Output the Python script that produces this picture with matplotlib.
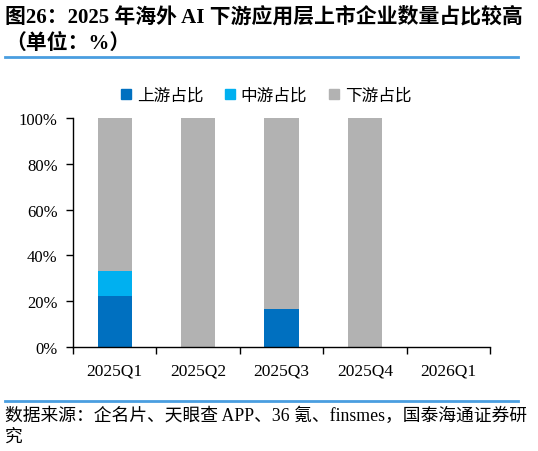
import matplotlib
matplotlib.use("Agg")
import matplotlib.pyplot as plt
from matplotlib.lines import Line2D
import numpy as np

# 数据（%）
quarters = ["2025Q1", "2025Q2", "2025Q3", "2025Q4", "2026Q1"]
upstream = [22.2, 0, 16.7, 0, 0]
midstream = [11.1, 0, 0, 0, 0]
downstream = [66.7, 100, 83.3, 100, 0]
series_names = ["上游占比", "中游占比", "下游占比"]
colors = ["#0070C0", "#00B0F0", "#B2B2B2"]
yticks = [0, 20, 40, 60, 80, 100]

CJK = ["Noto Sans CJK SC", "DejaVu Sans"]
SERIF = ["Liberation Serif", "Noto Sans CJK SC"]

fig = plt.figure(figsize=(5.38, 4.52), dpi=100)
ax = fig.add_axes([0.1357, 0.230, 0.775, 0.507])

x = np.arange(len(quarters))
bottom = np.zeros(len(quarters))
for vals, c in zip([upstream, midstream, downstream], colors):
    ax.bar(x, vals, width=0.41, bottom=bottom, color=c, linewidth=0)
    bottom += np.array(vals)

ax.set_xlim(-0.5, len(quarters) - 0.5)
ax.set_ylim(0, 100)
ax.set_yticks(yticks)
ax.set_yticklabels([f"{v}%" for v in yticks], family=SERIF, fontsize=12)
ax.set_xticks(np.arange(len(quarters) + 1) - 0.5)
ax.set_xticklabels([])
ax.set_xticks(x, minor=True)
ax.set_xticklabels(quarters, minor=True, family=SERIF, fontsize=12.5)
ax.tick_params(axis="x", which="major", length=5, direction="out", width=1)
ax.tick_params(axis="x", which="minor", length=0, pad=11)
ax.tick_params(axis="y", length=5, direction="out", width=1, pad=6)
for s in ["top", "right"]:
    ax.spines[s].set_visible(False)
for s in ["left", "bottom"]:
    ax.spines[s].set_linewidth(1)

handles = [Line2D([], [], marker="s", linestyle="none", markersize=7,
                  markerfacecolor=c, markeredgecolor=c) for c in colors]
fig.legend(handles, series_names, loc="center", bbox_to_anchor=(0.49, 0.787),
           ncol=3, frameon=False, prop={"family": CJK, "size": 12},
           handletextpad=0.05, columnspacing=1.0, handlelength=1.2)

# 标题
fig.text(0.010, 0.962, "图26：2025 年海外 AI 下游应用层上市企业数量占比较高",
         family=["Liberation Serif", "Noto Sans CJK SC"], weight="bold",
         fontsize=15, va="center", ha="left")
fig.text(0.010, 0.903, "（单位：%）", family=["Liberation Serif", "Noto Sans CJK SC"],
         weight="bold", fontsize=15, va="center", ha="left")
fig.add_artist(Line2D([0.01, 0.962], [0.871, 0.871], color="#4A9EE0", lw=2))
fig.add_artist(Line2D([0.01, 0.962], [0.111, 0.111], color="#4A9EE0", lw=2))

fig.text(0.010, 0.080, "数据来源：企名片、天眼查 APP、36 氪、finsmes，国泰海通证券研",
         family=SERIF, fontsize=12.8, va="center", ha="left")
fig.text(0.010, 0.033, "究", family=SERIF, fontsize=12.8, va="center", ha="left")

fig.savefig("out.png", dpi=100)
